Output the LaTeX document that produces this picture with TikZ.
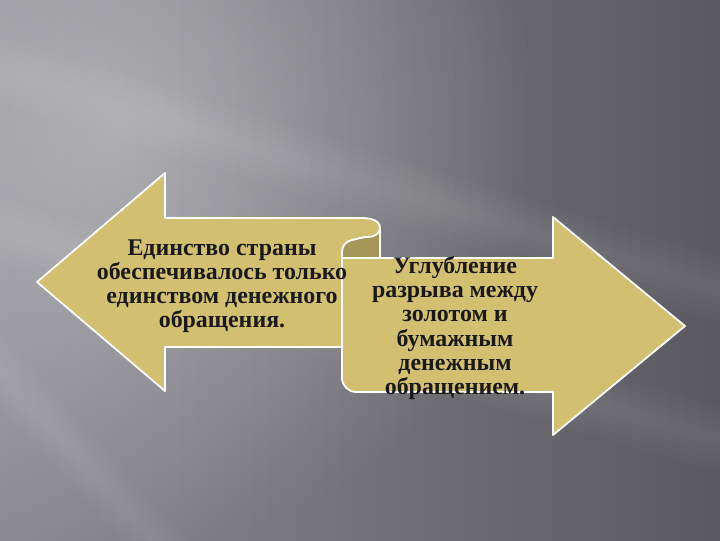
\documentclass[tikz,border=0pt]{standalone}
\usepackage{fontspec}
\setmainfont{Liberation Serif}
\usetikzlibrary{fadings}
\definecolor{arrowtan}{RGB}{211,191,112}
\definecolor{rolltan}{RGB}{166,150,88}
\definecolor{bgleft}{RGB}{140,139,146}
\definecolor{bgright}{RGB}{90,89,96}
\tikzfading[name=glow, inner color=transparent!0, outer color=transparent!100]

\begin{document}
\begin{tikzpicture}[x=0.025cm, y=-0.025cm,
        scrollarrow/.style={fill=arrowtan, draw=white, line width=1.3pt, line join=round},
        arrowtext/.style={font=\bfseries\fontsize{17}{17.2}\selectfont, align=center, text=black!90},
        streak/.style={white, opacity=0.025}]
        \useasboundingbox (0,0) rectangle (720,540);
        \shade[left color=bgleft, right color=bgright] (0,0) rectangle (720,540);
        \fill[white, opacity=0.35, path fading=glow] (120,130) circle (420);
        \foreach \w in {8,16,24,32} {
            \fill[streak] (0,70-\w) -- (720,290-\w) -- (720,290+\w) -- (0,70+\w) -- cycle;
            \fill[streak] (0,230-\w) -- (720,440-\w) -- (720,440+\w) -- (0,230+\w) -- cycle;
            \fill[streak] (-120-\w,240) -- (210-\w,600) -- (210+\w,600) -- (-120+\w,240) -- cycle;
        }

        \draw[scrollarrow] (37,282) -- (165,173) -- (165,218) -- (362,218)
            to[out=0,in=90] (380,228) -- (380,347) -- (165,347) -- (165,391) -- cycle;
        \draw[scrollarrow, fill=rolltan] (380,228) to[out=-90,in=0] (368,237)
            to[out=180,in=10] (352,240) to[out=190,in=90] (342,252) -- (342,258) -- (380,258) -- cycle;
        \draw[scrollarrow] (342,258) -- (553,258) -- (553,217) -- (685,326)
            -- (553,435) -- (553,392) [rounded corners=10pt] -- (342,392) [sharp corners] -- cycle;

        \node[arrowtext] (unity) at (222,286) {Единство страны\\обеспечивалось только\\единством денежного\\обращения.};
        \node[arrowtext] (gap) at (455,328) {Углубление\\разрыва между\\золотом и\\бумажным\\денежным\\обращением.};
    \end{tikzpicture}
\end{document}
